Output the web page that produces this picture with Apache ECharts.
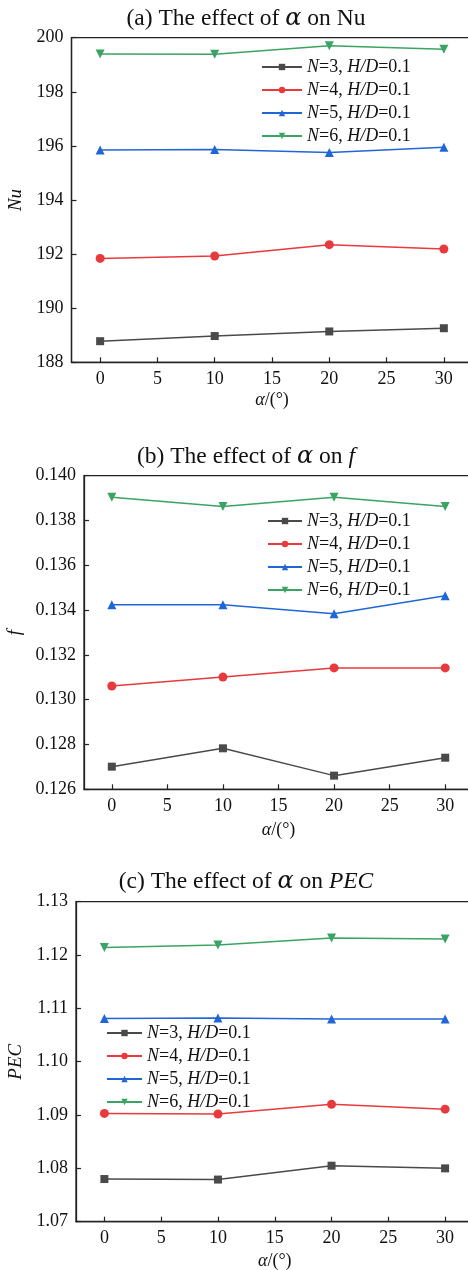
<!DOCTYPE html>
<html><head><meta charset="utf-8">
<script src="https://cdn.jsdelivr.net/npm/echarts@6/dist/echarts.min.js"></script>
<style>html,body{margin:0;padding:0;background:#fff}#c{width:468px;height:1270px}</style>
</head><body><div id="c"></div>
<script>
// ---- data ----
const alpha = [0, 10, 20, 30];
const xTicks = [0, 5, 10, 15, 20, 25, 30];
const seriesNames = ['N=3, H/D=0.1', 'N=4, H/D=0.1', 'N=5, H/D=0.1', 'N=6, H/D=0.1'];
const titles = ['(a) The effect of {a|α} on Nu', '(b) The effect of {a|α} on {i|f}', '(c) The effect of {a|α} on {i|PEC}'];
const yNames = ['Nu', 'f', 'PEC'];
const xName = '{i|α}/(°)';

const nuN3 = [188.78, 188.97, 189.14, 189.26];
const nuN4 = [191.84, 191.93, 192.35, 192.19];
const nuN5 = [195.85, 195.87, 195.76, 195.95];
const nuN6 = [199.40, 199.39, 199.70, 199.57];

const fN3 = [0.12701, 0.12783, 0.12661, 0.12741];
const fN4 = [0.13061, 0.13101, 0.13142, 0.13142];
const fN5 = [0.13424, 0.13424, 0.13384, 0.13464];
const fN6 = [0.13904, 0.13863, 0.13904, 0.13863];

const pecN3 = [1.0780, 1.0779, 1.0805, 1.0800];
const pecN4 = [1.0903, 1.0902, 1.0920, 1.0911];
const pecN5 = [1.1081, 1.1082, 1.1080, 1.1080];
const pecN6 = [1.1214, 1.1219, 1.1232, 1.1230];

const yMin = [188, 0.126, 1.07];
const yMax = [200, 0.140, 1.13];
const yInterval = [2, 0.002, 0.01];
const yDecimals = [0, 3, 2];

// ---- styles ----
const FONT = 'Liberation Serif';
const colors = ['#4a4a4a', '#e8393c', '#2166d6', '#3aa464'];
const symbols = ['rect', 'circle', 'triangle', 'triangle'];
const rotations = [0, 0, 0, 180];
const symSizes = [8, 9, 9, 9];
const AX = '#222';

const grids = [
  {left: 71.5, top: 37.7, width: 401, height: 324.6},
  {left: 84, top: 475.7, width: 389, height: 313.6},
  {left: 76, top: 901.7, width: 397.5, height: 320}
];
const titleTops = [7, 444.5, 869.5];
const legendPos = [{left: 261, top: 58}, {left: 267, top: 512}, {left: 106, top: 1024}];
const legendWidths = [40, 34, 35];
const yNameGaps = [48, 59, 51];
const xNameGaps = [38, 40.5, 40];

const panelData = [[nuN3, nuN4, nuN5, nuN6], [fN3, fN4, fN5, fN6], [pecN3, pecN4, pecN5, pecN6]];

const option = {
  animation: false,
  backgroundColor: '#fff',
  title: titles.map((t, i) => ({
    text: t, left: 246, top: titleTops[i], textAlign: 'center', padding: 0,
    textStyle: {fontFamily: FONT, fontSize: 23.5, fontWeight: 'normal', color: '#111',
      rich: {a: {fontFamily: 'DejaVu Serif', fontStyle: 'italic', fontSize: 24, color: '#111'}, i: {fontFamily: FONT, fontStyle: 'italic', fontSize: 23.5, color: '#111'}}}
  })),
  legend: legendPos.map((p, i) => ({
    left: p.left, top: p.top, orient: 'vertical', itemWidth: legendWidths[i], itemHeight: 8, itemGap: 5,
    padding: 0, selectedMode: false,
    data: seriesNames,
    formatter: n => n.replace('N', '{i|N}').replace('H/D', '{i|H/D}'),
    textStyle: {fontFamily: FONT, fontSize: 18, lineHeight: 18, color: '#111',
      rich: {i: {fontFamily: FONT, fontStyle: 'italic', fontSize: 18, lineHeight: 18, color: '#111'}}}
  })),
  grid: grids.map(g => Object.assign({show: true, borderColor: AX, borderWidth: 1.3, backgroundColor: 'transparent', outerBoundsMode: 'none'}, g)),
  xAxis: grids.map((g, i) => ({
    type: 'value', gridIndex: i, min: -2.5, max: 32.5,
    name: xName, nameLocation: 'middle', nameGap: xNameGaps[i],
    nameTextStyle: {fontFamily: FONT, fontSize: 18, color: '#111', verticalAlign: 'middle',
      rich: {i: {fontFamily: FONT, fontStyle: 'italic', fontSize: 18, color: '#111'}}},
    axisLine: {show: true, onZero: false, lineStyle: {color: AX, width: 1.3}},
    axisTick: {show: true, inside: true, length: 5, customValues: xTicks, lineStyle: {color: AX, width: 1.2}},
    axisLabel: {customValues: xTicks, fontFamily: FONT, fontSize: 18, color: '#111', margin: 8},
    splitLine: {show: false}
  })),
  yAxis: grids.map((g, i) => ({
    type: 'value', gridIndex: i, min: yMin[i], max: yMax[i], interval: yInterval[i],
    name: yNames[i], nameLocation: 'middle', nameGap: yNameGaps[i], nameRotate: 90,
    nameTextStyle: {fontFamily: FONT, fontSize: 19, fontStyle: 'italic', color: '#111', verticalAlign: 'middle'},
    axisLine: {show: true, onZero: false, lineStyle: {color: AX, width: 1.3}},
    axisTick: {show: true, inside: true, length: 5, lineStyle: {color: AX, width: 1.2}},
    axisLabel: {fontFamily: FONT, fontSize: 18, color: '#111', margin: 8, formatter: v => v.toFixed(yDecimals[i])},
    splitLine: {show: false}
  })),
  series: []
};

panelData.forEach((arrs, p) => {
  arrs.forEach((vals, k) => {
    option.series.push({
      type: 'line', name: seriesNames[k], xAxisIndex: p, yAxisIndex: p,
      data: alpha.map((a, j) => [a, vals[j]]),
      symbol: symbols[k], symbolRotate: rotations[k], symbolSize: symSizes[k],
      showSymbol: true, clip: false,
      lineStyle: {color: colors[k], width: 1.5},
      itemStyle: {color: colors[k]}
    });
  });
});

const chart = echarts.init(document.getElementById('c'), null, {renderer: 'canvas'});
chart.setOption(option);
</script>
</body></html>
